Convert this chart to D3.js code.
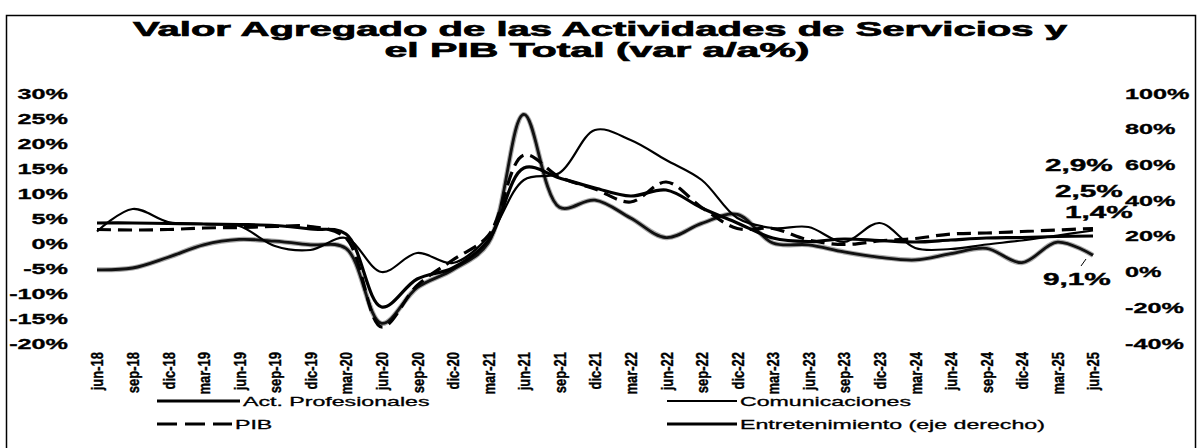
<!DOCTYPE html>
<html lang="es">
<head>
  <meta charset="utf-8">
  <title>Valor Agregado Servicios y PIB</title>
  <script src="https://cdn.jsdelivr.net/npm/d3@7"></script>
  <style>
    body { margin: 0; background: #fff; }
    svg text { font-family: "Liberation Sans", Arial, sans-serif; fill: #000; }
  </style>
</head>
<body>
  <svg class="chart" width="1198" height="448"></svg>
<script>
  //1. Data (var a/a %)
  var quarters = ["jun-18","sep-18","dic-18","mar-19","jun-19","sep-19","dic-19","mar-20","jun-20","sep-20",
    "dic-20","mar-21","jun-21","sep-21","dic-21","mar-22","jun-22","sep-22","dic-22","mar-23","jun-23",
    "sep-23","dic-23","mar-24","jun-24","sep-24","dic-24","mar-25","jun-25"];
  var actProfesionales = [4.0, 4.0, 3.9, 3.8, 3.7, 3.5, 2.8, 1.8, -12.8, -7.2, -5.0, 0.5, 15.0, 13.0, 11.0,
    9.4, 10.6, 7.0, 4.0, 1.0, 0.3, 0.8, 0.5, 0.2, 0.6, 1.0, 1.1, 1.3, 1.4];
  var comunicaciones = [2.3, 6.8, 4.2, 3.8, 3.4, -0.6, -1.4, 1.0, -5.8, -2.0, -4.0, 1.2, 12.6, 14.0, 22.6,
    20.6, 16.6, 12.6, 5.0, 3.0, 3.2, 0.2, 4.0, -1.0, -1.2, -0.3, 0.5, 1.5, 2.5];
  var pib = [2.7, 2.6, 2.7, 3.0, 3.1, 3.3, 3.3, 1.0, -16.8, -8.5, -3.4, 1.5, 17.6, 13.2, 10.8,
    8.2, 12.2, 7.1, 2.9, 2.9, 0.6, -0.3, 0.4, 0.9, 1.8, 2.0, 2.3, 2.6, 2.9];
  // eje derecho
  var entretenimiento = [1, 2, 8, 15, 18, 17, 15, 13, -29, -9, 1, 16, 88, 36, 40,
    30, 19, 27, 32, 16, 15, 11, 8, 6.5, 10, 13, 5, 16.5, 9.1];
  var leftTicks = [30, 25, 20, 15, 10, 5, 0, -5, -10, -15, -20];
  var rightTicks = [100, 80, 60, 40, 20, 0, -20, -40];
  var endLabels = ["2,9%", "2,5%", "1,4%", "9,1%"];

  //2. Layout
  var plotTop = 93, plotBottom = 343, xFirst = 97, xLast = 1093;
  var svg = d3.select(".chart");

  // the scan is stretched sideways, so text is widened too
  function stretch(sel, k) {
    sel.each(function() {
      var len = this.getComputedTextLength();
      d3.select(this).attr("textLength", len * k).attr("lengthAdjust", "spacingAndGlyphs");
    });
  }

  //3. Scales
  var x = d3.scalePoint().domain(quarters).range([xFirst, xLast]);
  var yL = d3.scaleLinear().domain([-20, 30]).range([plotBottom, plotTop]);
  var yR = d3.scaleLinear().domain([-40, 100]).range([plotBottom, plotTop]);

  //4. Frame and title
  svg.append("rect")
    .attr("x", 6.5).attr("y", 15.5)
    .attr("width", 1189).attr("height", 450)
    .style("fill", "none").style("stroke", "#000").style("stroke-width", 1.5);

  var title = svg.append("g").style("font-size", "21px").style("font-weight", "bold")
    .style("stroke", "#000").style("stroke-width", 0.7);
  title.append("text").attr("x", 600).attr("y", 36).style("text-anchor", "middle")
    .attr("textLength", 934).attr("lengthAdjust", "spacingAndGlyphs")
    .text("Valor Agregado de las Actividades de Servicios y");
  title.append("text").attr("x", 597).attr("y", 57).style("text-anchor", "middle")
    .attr("textLength", 425).attr("lengthAdjust", "spacingAndGlyphs")
    .text("el PIB Total (var a/a%)");

  //5. Axes
  var axL = svg.append("g").attr("transform", "translate(68,0)")
    .call(d3.axisLeft(yL).tickValues(leftTicks).tickFormat(d => d + "%").tickSize(0).tickPadding(0));
  var axR = svg.append("g").attr("transform", "translate(1125,0)")
    .call(d3.axisRight(yR).tickValues(rightTicks).tickFormat(d => d + "%").tickSize(0).tickPadding(0));
  [axL, axR].forEach(function(ax) {
    ax.select(".domain").remove();
    ax.attr("font-family", null).attr("font-size", null);
    ax.selectAll("text").style("font-size", "14px").style("font-weight", "bold").attr("dy", "0.36em")
      .style("stroke", "#000").style("stroke-width", 0.3);
    stretch(ax.selectAll("text"), 1.8);
  });

  var axX = svg.append("g").attr("transform", "translate(0,350)")
    .call(d3.axisBottom(x).tickSize(0).tickPadding(0));
  axX.select(".domain").remove();
  axX.attr("font-family", null).attr("font-size", null);
  axX.selectAll("text")
    .style("font-size", "13px").style("font-weight", "bold").style("text-anchor", "end")
    .style("stroke", "#000").style("stroke-width", 0.3)
    .attr("x", -2).attr("y", 0).attr("dy", "0.35em")
    .attr("transform", "rotate(-90) scale(1,1.3)");

  //6. Lines
  var lineL = d3.line().x((d, i) => x(quarters[i])).y(d => yL(d)).curve(d3.curveCatmullRom);
  var lineR = d3.line().x((d, i) => x(quarters[i])).y(d => yR(d)).curve(d3.curveCatmullRom);

  svg.append("path").attr("d", lineR(entretenimiento))
    .style("fill", "none").style("stroke", "#aaa").style("stroke-width", 5);
  svg.append("path").attr("d", lineR(entretenimiento))
    .style("fill", "none").style("stroke", "#111").style("stroke-width", 2.8);
  svg.append("path").attr("d", lineL(comunicaciones))
    .style("fill", "none").style("stroke", "#000").style("stroke-width", 2.2);
  svg.append("path").attr("d", lineL(actProfesionales))
    .style("fill", "none").style("stroke", "#000").style("stroke-width", 3.2);
  svg.append("path").attr("d", lineL(pib))
    .style("fill", "none").style("stroke", "#000").style("stroke-width", 3.2)
    .style("stroke-dasharray", "14,7");

  //7. End labels
  var labels = svg.append("g").style("font-size", "17px").style("font-weight", "bold")
    .style("stroke", "#000").style("stroke-width", 0.4);
  var lx = [1045, 1055, 1065, 1043], ly = [171, 197, 218, 285];
  endLabels.forEach(function(t, i) {
    labels.append("text").attr("x", lx[i]).attr("y", ly[i]).text(t);
  });
  stretch(labels.selectAll("text"), 1.75);
  svg.append("line").attr("x1", 1081).attr("y1", 266).attr("x2", 1086).attr("y2", 259)
    .style("stroke", "#000").style("stroke-width", 1);

  //8. Legend
  var legend = svg.append("g").style("font-size", "13px")
    .style("stroke", "#000").style("stroke-width", 0.3);
  var items = [
    {name: "Act. Profesionales", x1: 157, x2: 240, y: 401, w: 3, dash: null},
    {name: "PIB", x1: 157, x2: 232, y: 424, w: 3, dash: "20,8"},
    {name: "Comunicaciones", x1: 667, x2: 737, y: 401, w: 2.2, dash: null},
    {name: "Entretenimiento (eje derecho)", x1: 667, x2: 737, y: 424, w: 3, dash: null}
  ];
  items.forEach(function(d) {
    legend.append("line").attr("x1", d.x1).attr("x2", d.x2).attr("y1", d.y).attr("y2", d.y)
      .style("stroke", "#000").style("stroke-width", d.w).style("stroke-dasharray", d.dash);
    legend.append("text").attr("x", d.x2 + 3).attr("y", d.y).attr("dy", "0.35em").text(d.name);
  });
  stretch(legend.selectAll("text"), 1.78);
</script>
</body>
</html>
